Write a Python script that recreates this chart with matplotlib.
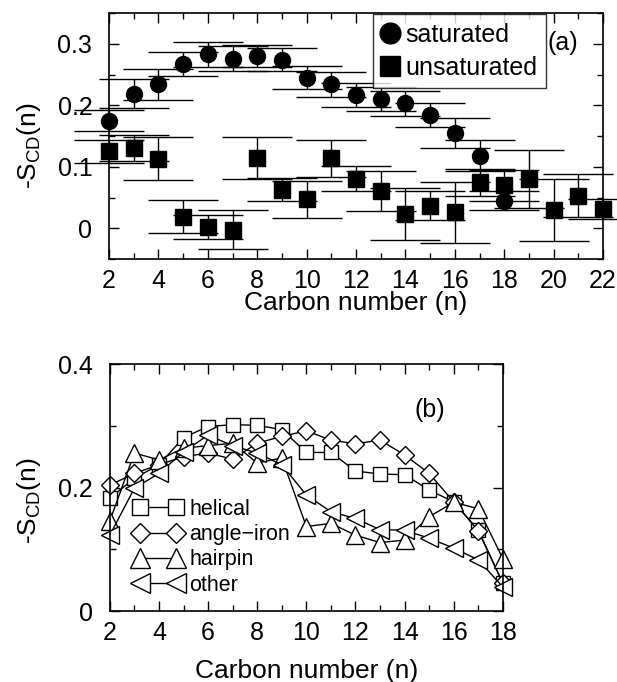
import numpy as np
import matplotlib
matplotlib.use('Agg')
import matplotlib.pyplot as plt
from matplotlib.ticker import MultipleLocator, FuncFormatter

plt.rcParams['font.family'] = ['Liberation Sans', 'DejaVu Sans']
plt.rcParams['mathtext.default'] = 'regular'

# panel (a): order parameters with error bars
n_sat = [2, 3, 4, 5, 6, 7, 8, 9, 10, 11, 12, 13, 14, 15, 16, 17, 18]
s_sat = [0.175, 0.219, 0.234, 0.267, 0.283, 0.276, 0.280, 0.274, 0.245, 0.234,
         0.217, 0.210, 0.203, 0.184, 0.155, 0.118, 0.045]
e_sat = [0.017, 0.023, 0.025, 0.020, 0.020, 0.020, 0.018, 0.019, 0.019, 0.020,
         0.020, 0.020, 0.020, 0.020, 0.024, 0.025, 0.015]

n_unsat = [2, 3, 4, 5, 6, 7, 8, 9, 10, 11, 12, 13, 14, 15, 16, 17, 18, 19, 20, 21, 22]
s_unsat = [0.125, 0.131, 0.113, 0.019, 0.002, -0.002, 0.114, 0.063, 0.047, 0.114,
           0.081, 0.061, 0.023, 0.037, 0.026, 0.075, 0.070, 0.080, 0.030, 0.053, 0.031]
e_unsat = [0.018, 0.021, 0.035, 0.027, 0.019, 0.032, 0.034, 0.019, 0.030, 0.030,
           0.020, 0.033, 0.042, 0.023, 0.049, 0.022, 0.025, 0.047, 0.050, 0.035, 0.016]

# panel (b): simulated conformations
n_b = [2, 3, 4, 5, 6, 7, 8, 9, 10, 11, 12, 13, 14, 15, 16, 17, 18]
helical = [0.183, 0.215, 0.237, 0.281, 0.299, 0.302, 0.301, 0.294, 0.257, 0.257,
           0.227, 0.222, 0.221, 0.196, 0.177, 0.131, 0.045]
angle_iron = [0.204, 0.223, 0.237, 0.250, 0.256, 0.246, 0.272, 0.283, 0.292, 0.277,
              0.271, 0.277, 0.253, 0.223, 0.177, 0.130, 0.045]
hairpin = [0.146, 0.256, 0.245, 0.264, 0.268, 0.272, 0.240, 0.248, 0.137, 0.142,
           0.123, 0.111, 0.115, 0.153, 0.176, 0.166, 0.085]
other = [0.123, 0.199, 0.223, 0.258, 0.285, 0.268, 0.256, 0.237, 0.188, 0.161,
         0.150, 0.132, 0.131, 0.118, 0.102, 0.083, 0.039]

fig = plt.figure(figsize=(6.17, 6.82), dpi=100)
ax1 = fig.add_axes([0.1767, 0.620, 0.8006, 0.361])
ax2 = fig.add_axes([0.178, 0.104, 0.637, 0.362])

fmt = FuncFormatter(lambda v, p: '0' if abs(v) < 1e-9 else f'{v:.1f}')

def style(ax, xpad):
    ax.tick_params(which='both', direction='in', top=True, right=True, labelsize=18,
                   width=1)
    ax.tick_params(which='major', length=7)
    ax.tick_params(axis='x', which='major', pad=7)
    ax.tick_params(axis='y', which='major', pad=12)
    ax.tick_params(which='minor', length=4)
    for s in ax.spines.values():
        s.set_linewidth(1.2)
    ax.yaxis.set_major_formatter(fmt)
    ax.set_xlabel('Carbon number (n)', fontsize=19, labelpad=xpad)
    ax.set_ylabel('-S$_{CD}$(n)', fontsize=19)

# (a)
ax1.errorbar(n_sat, s_sat, yerr=e_sat, fmt='o', color='black', ms=11.5,
             ecolor='black', elinewidth=1, capsize=25, capthick=1, label='saturated',
             clip_on=False, zorder=3)
ax1.errorbar(n_unsat, s_unsat, yerr=e_unsat, fmt='s', color='black', ms=11,
             ecolor='black', elinewidth=1, capsize=25, capthick=1, label='unsaturated',
             clip_on=False, zorder=3)
ax1.set_xlim(2, 22)
ax1.set_ylim(-0.05, 0.35)
ax1.xaxis.set_major_locator(MultipleLocator(2))
ax1.xaxis.set_minor_locator(MultipleLocator(1))
ax1.yaxis.set_major_locator(MultipleLocator(0.1))
ax1.yaxis.set_minor_locator(MultipleLocator(0.05))
style(ax1, -1)
ax1.yaxis.set_label_coords(-0.134, 0.463)
h, l = ax1.get_legend_handles_labels()
leg1 = ax1.legend([x[0] for x in h], l, loc='upper left', bbox_to_anchor=(0.534, 0.995),
                  fontsize=18, frameon=True, fancybox=False, edgecolor='black',
                  markerscale=1.3, handlelength=0.7, handletextpad=0.25,
                  borderpad=0.35, labelspacing=0.35, borderaxespad=0)
leg1.get_frame().set_linewidth(1)
leg1.set_zorder(5)
ax1.text(0.919, 0.878, '(a)', transform=ax1.transAxes, fontsize=18,
         ha='center', va='center')

# (b)
kw = dict(color='black', lw=1, mfc='white', mec='black', mew=1, clip_on=False)
ax2.plot(n_b, helical, marker='s', ms=10.5, label='helical', **kw)
ax2.plot(n_b, angle_iron, marker='D', ms=9, label='angle\u2212iron', **kw)
ax2.plot(n_b, hairpin, marker='^', ms=13, label='hairpin', **kw)
ax2.plot(n_b, other, marker='<', ms=13, label='other', **kw)
ax2.set_xlim(2, 18)
ax2.set_ylim(0, 0.4)
ax2.xaxis.set_major_locator(MultipleLocator(2))
ax2.xaxis.set_minor_locator(MultipleLocator(1))
ax2.yaxis.set_major_locator(MultipleLocator(0.2))
ax2.yaxis.set_minor_locator(MultipleLocator(0.1))
style(ax2, 10)
ax2.yaxis.set_label_coords(-0.170, 0.449)
ax2.legend(loc='upper left', bbox_to_anchor=(0.06, 0.455), fontsize=15.5, frameon=False,
           numpoints=2, markerscale=1.15, handlelength=2.3, handletextpad=0.3,
           labelspacing=0.2, borderaxespad=0, borderpad=0)
ax2.text(0.814, 0.814, '(b)', transform=ax2.transAxes, fontsize=18,
         ha='center', va='center')

fig.savefig('out.png', dpi=100)
